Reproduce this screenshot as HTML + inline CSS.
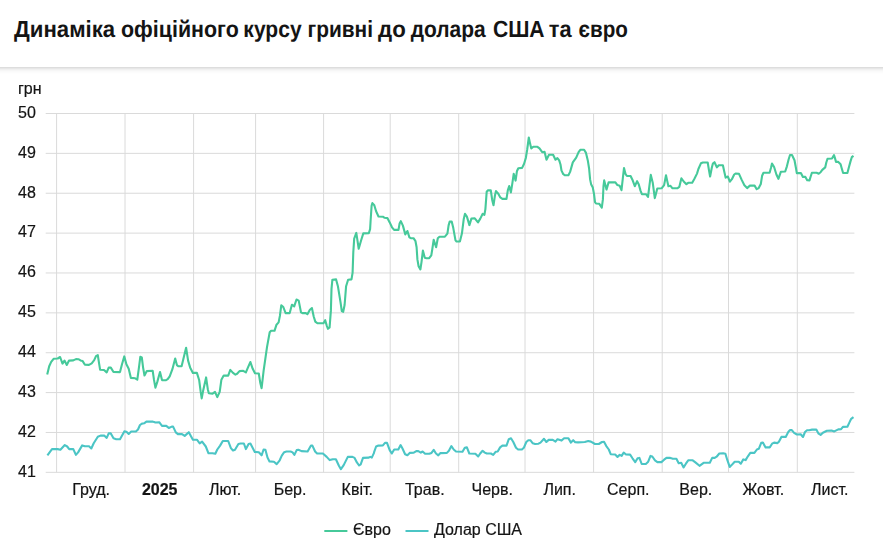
<!DOCTYPE html>
<html lang="uk"><head><meta charset="utf-8"><title>Chart</title>
<style>
html,body{margin:0;padding:0;background:#fff;}
body{width:883px;height:544px;overflow:hidden;position:relative;font-family:"Liberation Sans",sans-serif;}
svg{position:absolute;left:0;top:0;display:block;}
#chart{will-change:transform;-webkit-font-smoothing:antialiased;}
text{font-family:"Liberation Sans",sans-serif;fill:#141414;}
#chart text{stroke:#141414;stroke-width:0.2px;}
</style></head><body>
<svg id="chart" width="883" height="544" viewBox="0 0 883 544">

<rect x="0" y="67" width="883" height="1" fill="#dddddd"/><rect x="0" y="68" width="883" height="1" fill="#e7e7e7"/><rect x="0" y="69" width="883" height="1" fill="#f0f0f0"/><rect x="0" y="70" width="883" height="1" fill="#f6f6f6"/><rect x="0" y="71" width="883" height="1" fill="#fafafa"/><rect x="0" y="72" width="883" height="1" fill="#fcfcfc"/><rect x="0" y="73" width="883" height="1" fill="#fefefe"/>
<text id="unit" x="18" y="94.3" font-size="16">грн</text>
<g stroke="#dadada" stroke-width="1" fill="none"><line x1="45.7" y1="113.50" x2="854.4" y2="113.50"/><line x1="45.7" y1="153.37" x2="854.4" y2="153.37"/><line x1="45.7" y1="193.24" x2="854.4" y2="193.24"/><line x1="45.7" y1="233.11" x2="854.4" y2="233.11"/><line x1="45.7" y1="272.98" x2="854.4" y2="272.98"/><line x1="45.7" y1="312.85" x2="854.4" y2="312.85"/><line x1="45.7" y1="352.72" x2="854.4" y2="352.72"/><line x1="45.7" y1="392.59" x2="854.4" y2="392.59"/><line x1="45.7" y1="432.46" x2="854.4" y2="432.46"/><line x1="45.7" y1="472.33" x2="854.4" y2="472.33"/><line x1="56.6" y1="113.50" x2="56.6" y2="472.33"/><line x1="125.0" y1="113.50" x2="125.0" y2="472.33"/><line x1="193.6" y1="113.50" x2="193.6" y2="472.33"/><line x1="255.6" y1="113.50" x2="255.6" y2="472.33"/><line x1="323.6" y1="113.50" x2="323.6" y2="472.33"/><line x1="390.2" y1="113.50" x2="390.2" y2="472.33"/><line x1="458.7" y1="113.50" x2="458.7" y2="472.33"/><line x1="525.0" y1="113.50" x2="525.0" y2="472.33"/><line x1="593.6" y1="113.50" x2="593.6" y2="472.33"/><line x1="662.2" y1="113.50" x2="662.2" y2="472.33"/><line x1="728.5" y1="113.50" x2="728.5" y2="472.33"/><line x1="797.3" y1="113.50" x2="797.3" y2="472.33"/></g>
<text class="yl" x="18" y="118" font-size="16">50</text><text class="yl" x="18" y="158" font-size="16">49</text><text class="yl" x="18" y="198" font-size="16">48</text><text class="yl" x="18" y="237" font-size="16">47</text><text class="yl" x="18" y="277" font-size="16">46</text><text class="yl" x="18" y="317" font-size="16">45</text><text class="yl" x="18" y="357" font-size="16">44</text><text class="yl" x="18" y="397" font-size="16">43</text><text class="yl" x="18" y="437" font-size="16">42</text><text class="yl" x="18" y="477" font-size="16">41</text>
<text class="xl" x="91.2" y="494.8" font-size="16" text-anchor="middle">Груд.</text><text class="xl" x="159.7" y="494.8" font-size="16" text-anchor="middle" font-weight="700">2025</text><text class="xl" x="225.0" y="494.8" font-size="16" text-anchor="middle">Лют.</text><text class="xl" x="290.0" y="494.8" font-size="16" text-anchor="middle">Бер.</text><text class="xl" x="357.3" y="494.8" font-size="16" text-anchor="middle">Квіт.</text><text class="xl" x="424.8" y="494.8" font-size="16" text-anchor="middle">Трав.</text><text class="xl" x="492.2" y="494.8" font-size="16" text-anchor="middle">Черв.</text><text class="xl" x="559.7" y="494.8" font-size="16" text-anchor="middle">Лип.</text><text class="xl" x="628.3" y="494.8" font-size="16" text-anchor="middle">Серп.</text><text class="xl" x="695.8" y="494.8" font-size="16" text-anchor="middle">Вер.</text><text class="xl" x="763.3" y="494.8" font-size="16" text-anchor="middle">Жовт.</text><text class="xl" x="829.7" y="494.8" font-size="16" text-anchor="middle">Лист.</text>
<path id="eur" d="M47.2,374.6 L49.2,366.3 L51.2,361.9 L53.6,358.8 L57.7,358.5 L60.1,357.0 L62.5,363.6 L64.5,360.6 L66.8,364.9 L69.0,360.6 L73.3,360.4 L76.0,359.1 L78.4,359.2 L80.5,360.4 L82.5,360.9 L84.9,364.7 L89.0,364.9 L91.7,363.3 L94.2,360.2 L96.0,356.1 L97.8,355.1 L99.2,364.2 L100.1,369.7 L104.0,370.0 L106.7,372.4 L108.7,367.6 L110.8,367.6 L113.5,372.0 L120.0,372.1 L122.0,364.2 L124.3,356.4 L126.4,364.2 L128.7,368.7 L130.9,377.9 L135.2,378.3 L137.3,379.6 L139.1,366.3 L140.3,356.8 L141.8,357.4 L143.1,367.6 L144.5,375.5 L146.8,371.1 L152.7,370.8 L154.0,379.9 L155.4,387.6 L157.3,381.9 L160.0,372.0 L162.0,380.1 L165.7,380.3 L167.7,379.2 L169.7,376.3 L172.4,369.2 L175.2,358.6 L176.9,365.1 L178.3,366.3 L181.6,366.3 L183.3,359.2 L186.1,347.7 L188.1,360.6 L190.1,367.4 L192.9,372.9 L196.9,372.9 L199.2,380.3 L200.6,391.2 L201.7,398.4 L203.3,389.9 L206.1,377.4 L207.8,389.2 L208.8,393.3 L212.6,393.7 L215.0,391.9 L217.3,397.1 L219.7,391.9 L221.4,379.7 L223.7,375.6 L228.2,375.6 L230.3,369.9 L233.0,372.9 L235.4,374.6 L237.1,373.8 L239.5,371.1 L243.2,370.8 L245.9,372.4 L248.0,367.4 L250.4,362.0 L252.7,368.8 L255.0,373.3 L258.8,373.5 L260.2,382.4 L261.6,388.2 L263.6,370.8 L267.0,347.1 L269.7,332.2 L271.1,330.8 L274.5,330.8 L276.5,324.7 L278.6,322.4 L279.9,315.9 L281.3,305.2 L283.3,307.0 L285.6,313.1 L289.7,313.1 L291.9,304.7 L294.2,306.3 L296.5,299.5 L298.7,300.6 L301.0,312.4 L302.4,313.1 L305.8,313.1 L307.4,314.2 L309.9,309.7 L311.9,308.0 L313.7,316.5 L315.3,321.6 L317.4,323.3 L323.5,323.3 L325.2,320.2 L326.9,326.1 L328.0,328.8 L329.6,327.4 L330.9,310.4 L331.5,288.9 L332.4,279.7 L336.1,279.4 L337.9,286.2 L340.5,302.2 L341.8,311.1 L343.2,311.8 L344.6,305.0 L346.1,286.2 L348.1,279.7 L351.5,279.4 L352.6,272.6 L353.3,252.2 L354.2,238.6 L356.3,232.9 L357.6,241.3 L358.7,248.8 L361.0,240.7 L363.3,233.4 L368.8,233.2 L370.1,229.1 L370.6,220.8 L371.6,205.8 L372.4,203.1 L374.3,205.2 L376.1,211.3 L378.5,216.5 L382.9,216.7 L384.6,217.8 L387.4,218.1 L389.7,222.4 L392.0,227.3 L394.1,229.9 L398.5,229.9 L399.6,223.5 L400.8,221.1 L402.9,225.6 L405.3,234.4 L407.4,231.0 L409.4,237.4 L410.8,238.2 L413.5,238.2 L415.5,241.2 L416.6,247.2 L417.4,259.4 L418.6,266.2 L420.4,269.4 L421.5,262.1 L422.9,250.6 L424.8,257.8 L426.5,258.3 L429.2,258.1 L431.3,255.3 L432.4,248.5 L433.7,239.7 L436.1,247.2 L437.8,238.3 L439.5,236.7 L444.9,236.6 L447.4,233.6 L448.6,225.4 L449.7,221.6 L451.7,221.6 L453.3,228.1 L455.5,240.4 L456.5,241.5 L459.9,241.5 L461.9,233.6 L463.7,219.3 L465.0,213.8 L466.9,216.6 L469.4,225.1 L471.4,218.6 L474.8,218.3 L478.0,222.4 L480.3,218.6 L482.7,213.8 L484.4,214.8 L485.4,209.1 L486.7,191.7 L487.8,190.4 L490.8,190.4 L492.2,199.9 L493.5,205.3 L494.9,195.8 L496.0,191.1 L498.3,193.8 L500.3,197.4 L502.4,198.9 L506.5,198.9 L507.8,190.4 L509.2,186.0 L510.9,192.4 L512.3,183.6 L513.7,173.8 L515.6,180.6 L516.9,171.3 L518.3,168.2 L522.1,167.9 L524.1,163.8 L525.9,157.7 L527.2,149.5 L528.8,137.5 L530.2,144.1 L531.3,148.4 L533.3,146.8 L537.4,146.8 L539.5,148.4 L542.2,152.2 L544.6,151.9 L546.5,159.7 L549.0,154.7 L553.1,154.7 L555.5,159.7 L557.4,158.1 L559.2,160.4 L560.5,164.5 L561.5,170.6 L563.3,174.2 L565.0,175.3 L568.4,175.3 L570.1,171.9 L572.8,162.4 L576.2,157.7 L578.6,152.2 L580.3,149.8 L584.1,149.8 L586.0,152.9 L587.8,160.4 L589.1,168.5 L590.1,179.4 L591.2,184.6 L592.8,187.6 L594.0,194.0 L595.0,202.1 L596.0,203.5 L599.3,203.8 L601.8,207.6 L602.9,199.4 L603.5,185.8 L604.2,180.4 L606.5,189.6 L608.6,182.4 L615.4,182.4 L617.4,185.1 L619.7,185.8 L621.5,190.2 L622.9,177.7 L624.0,168.1 L625.6,174.2 L626.9,176.0 L630.6,176.0 L632.4,179.7 L634.8,186.2 L637.1,181.1 L638.8,184.5 L640.5,190.6 L641.9,194.2 L646.0,194.2 L648.0,197.0 L649.4,185.8 L650.8,174.9 L652.8,183.1 L653.7,189.9 L654.8,198.1 L655.9,194.0 L657.3,188.5 L661.6,188.3 L664.1,185.1 L666.0,175.2 L667.1,180.4 L668.4,186.2 L670.5,185.8 L672.5,188.3 L677.3,188.3 L679.3,186.9 L681.4,178.3 L683.7,181.5 L686.4,184.2 L688.2,182.8 L692.2,182.7 L694.3,179.0 L697.0,173.6 L698.4,169.0 L700.9,163.3 L702.9,162.5 L707.7,162.5 L709.0,170.4 L710.1,176.5 L711.8,167.7 L712.9,163.6 L714.5,162.2 L716.9,167.4 L718.8,165.2 L722.9,165.2 L724.3,171.7 L725.6,177.6 L727.8,176.5 L729.9,181.7 L731.9,179.2 L734.2,174.5 L735.6,173.5 L739.0,173.8 L741.7,179.9 L744.4,185.3 L747.1,188.1 L749.9,185.6 L754.6,185.6 L756.7,189.2 L758.7,188.1 L760.8,184.0 L762.1,175.8 L763.5,172.7 L769.6,172.7 L771.0,167.7 L772.0,163.6 L774.1,167.0 L776.4,174.5 L778.4,178.8 L780.9,171.7 L785.2,171.5 L786.9,166.3 L788.6,159.5 L790.0,155.0 L792.0,155.0 L794.5,160.2 L795.9,167.7 L796.8,173.1 L800.9,173.1 L802.9,176.9 L805.4,176.9 L807.2,180.2 L809.5,180.4 L810.6,176.8 L811.9,172.8 L816.6,172.8 L818.7,173.7 L820.6,172.2 L822.3,169.9 L825.2,167.4 L826.3,162.5 L827.5,158.8 L832.0,158.5 L834.0,155.1 L834.9,157.9 L836.0,161.9 L838.3,161.9 L840.6,164.2 L841.7,168.2 L843.1,173.0 L847.4,173.0 L849.1,166.5 L850.5,161.4 L851.8,157.2 L853.5,155.9" fill="none" stroke="#46c99a" stroke-width="2.1" stroke-linejoin="round" stroke-linecap="butt"/>
<path id="usd" d="M47.4,455.4 L52.0,449.1 L57.7,449.1 L60.4,449.7 L64.8,445.1 L67.2,446.5 L69.2,449.1 L73.3,449.1 L75.9,454.9 L78.1,452.4 L82.2,445.4 L84.9,446.3 L89.0,446.3 L91.3,448.5 L93.7,443.3 L97.8,436.8 L100.5,435.6 L104.2,435.6 L106.7,437.9 L108.7,433.4 L110.8,433.4 L113.5,438.3 L116.2,439.2 L120.0,439.2 L124.3,431.4 L126.4,431.8 L128.7,433.9 L131.2,431.5 L135.9,431.5 L138.0,429.5 L140.0,425.0 L142.0,423.6 L144.1,423.3 L146.4,421.6 L152.9,421.6 L153.4,421.8 L155.4,422.5 L159.2,422.2 L162.0,425.9 L166.3,425.9 L168.8,428.0 L171.8,426.6 L173.1,426.6 L175.8,432.4 L177.9,434.1 L182.0,434.1 L184.7,435.9 L188.8,432.2 L192.9,439.7 L196.9,439.7 L199.7,443.3 L202.1,441.6 L205.8,446.5 L208.5,453.3 L212.6,453.3 L215.3,453.8 L217.3,449.5 L220.1,445.6 L222.8,441.0 L228.2,441.0 L230.9,448.1 L233.0,450.5 L235.0,449.7 L238.4,444.0 L240.5,443.5 L243.9,443.5 L245.9,449.1 L248.6,444.0 L250.4,443.5 L254.8,451.9 L258.8,452.2 L261.6,455.3 L263.6,449.5 L265.4,449.7 L267.5,457.6 L269.5,461.4 L273.9,461.7 L276.7,464.1 L279.7,460.3 L281.8,455.6 L284.2,452.2 L286.5,451.5 L290.6,451.5 L292.6,452.4 L294.4,454.9 L296.7,450.1 L298.4,449.7 L301.5,451.1 L307.6,451.5 L311.0,445.6 L312.4,445.6 L315.1,451.5 L317.1,453.5 L322.9,453.5 L326.7,456.9 L329.7,460.1 L332.8,459.2 L335.9,459.2 L338.9,465.8 L340.9,469.2 L343.7,465.1 L347.8,456.9 L352.5,456.9 L354.6,457.9 L356.9,462.4 L359.1,465.5 L360.7,464.4 L363.0,457.9 L368.8,457.6 L370.2,456.9 L371.8,457.6 L374.0,452.9 L374.1,452.2 L376.1,446.5 L378.4,445.6 L382.9,445.4 L385.0,442.9 L387.0,442.9 L389.7,450.1 L391.8,453.5 L394.2,449.5 L398.3,449.5 L400.6,445.1 L402.6,448.8 L405.1,454.2 L407.4,455.2 L409.7,452.9 L413.8,452.6 L416.3,451.1 L418.3,451.1 L420.8,452.6 L422.6,451.5 L425.1,453.8 L429.2,453.8 L431.5,452.9 L433.7,449.9 L436.0,453.5 L438.3,455.3 L440.5,453.1 L446.9,452.9 L448.9,450.8 L451.4,446.1 L453.7,449.5 L456.0,451.5 L462.5,451.8 L464.8,447.8 L466.9,447.4 L469.3,453.5 L475.4,453.8 L478.2,456.5 L480.2,453.5 L482.6,450.8 L484.8,452.6 L486.8,453.5 L490.9,453.5 L493.2,454.9 L495.6,451.8 L497.7,451.5 L500.1,447.4 L502.4,445.6 L506.5,445.6 L508.8,439.2 L511.0,438.3 L513.3,442.0 L516.0,447.8 L518.1,449.5 L521.9,449.5 L523.8,447.8 L526.3,442.0 L528.3,440.2 L530.3,440.2 L532.8,443.3 L535.1,444.0 L538.5,443.7 L540.5,442.6 L544.0,438.8 L546.4,442.0 L548.7,439.9 L552.8,439.9 L555.5,441.6 L557.5,439.2 L561.6,440.6 L564.1,438.3 L568.4,438.3 L570.9,442.6 L573.2,440.2 L575.2,442.2 L578.0,442.4 L584.8,442.0 L588.2,441.0 L590.9,441.6 L595.0,444.0 L595.2,444.0 L598.8,444.0 L602.0,442.0 L604.0,441.7 L606.3,446.1 L608.8,449.5 L610.7,454.2 L615.2,454.5 L617.5,456.9 L619.7,454.9 L621.6,455.9 L623.7,452.6 L626.0,454.5 L630.1,454.6 L632.5,458.3 L635.2,462.1 L637.6,458.3 L639.4,457.9 L641.7,464.0 L645.8,464.0 L648.2,461.7 L650.5,455.9 L652.3,456.5 L655.0,460.3 L657.4,462.1 L661.4,462.1 L664.1,459.7 L666.5,457.9 L670.3,457.9 L672.3,458.6 L676.4,458.7 L678.7,463.3 L681.2,462.8 L683.6,467.4 L685.9,463.7 L688.2,460.3 L692.7,460.3 L695.4,462.4 L699.5,465.8 L703.6,462.8 L709.8,462.8 L712.2,457.9 L714.7,457.9 L716.6,456.7 L719.3,453.5 L723.1,453.3 L725.4,453.8 L727.2,459.7 L729.7,466.9 L731.6,465.1 L734.7,461.7 L738.8,461.7 L740.8,463.7 L743.3,459.4 L745.6,460.1 L747.9,456.3 L750.3,452.9 L754.4,452.9 L756.9,449.5 L758.8,448.8 L761.2,442.9 L762.9,442.6 L765.6,447.4 L769.7,447.4 L772.1,443.7 L774.1,442.6 L777.5,443.1 L778.9,441.7 L781.4,436.9 L785.7,436.9 L788.4,431.8 L790.1,430.1 L791.8,430.1 L794.1,432.9 L796.9,434.5 L800.7,434.3 L803.0,437.0 L805.0,432.0 L807.0,430.2 L809.2,430.2 L812.1,429.6 L816.3,429.6 L818.6,433.7 L820.6,434.9 L822.9,432.8 L826.9,430.7 L831.5,430.5 L834.3,431.4 L838.3,429.4 L841.1,429.1 L842.9,426.9 L847.4,426.8 L849.1,423.1 L851.2,418.8 L853.5,417.1" fill="none" stroke="#4bc5c5" stroke-width="2.1" stroke-linejoin="round" stroke-linecap="butt"/>
<line x1="324.3" y1="531" x2="347.4" y2="531" stroke="#46c99a" stroke-width="2"/><text id="lg1" x="353" y="535" font-size="16">Євро</text><line x1="405.5" y1="531" x2="428.5" y2="531" stroke="#4bc5c5" stroke-width="2"/><text id="lg2" x="434" y="535" font-size="16">Долар США</text>
</svg>
<svg id="hdr" width="883" height="60" viewBox="0 0 883 60"><rect width="883" height="60" fill="#fff"/><g id="title" text-rendering="geometricPrecision" font-size="23.4" font-weight="700" style="fill:#0a0a0a"><text x="14.06" y="36.9" textLength="101.12" lengthAdjust="spacingAndGlyphs">Динаміка</text><text x="121.06" y="36.9" textLength="117.74" lengthAdjust="spacingAndGlyphs">офіційного</text><text x="243.37" y="36.9" textLength="58.24" lengthAdjust="spacingAndGlyphs">курсу</text><text x="307.47" y="36.9" textLength="65.53" lengthAdjust="spacingAndGlyphs">гривні</text><text x="378.06" y="36.9" textLength="27.68" lengthAdjust="spacingAndGlyphs">до</text><text x="410.64" y="36.9" textLength="75.01" lengthAdjust="spacingAndGlyphs">долара</text><text x="492.96" y="36.9" textLength="51.62" lengthAdjust="spacingAndGlyphs">США</text><text x="548.86" y="36.9" textLength="22.83" lengthAdjust="spacingAndGlyphs">та</text><text x="578.58" y="36.9" textLength="49.35" lengthAdjust="spacingAndGlyphs">євро</text></g></svg>
</body></html>
